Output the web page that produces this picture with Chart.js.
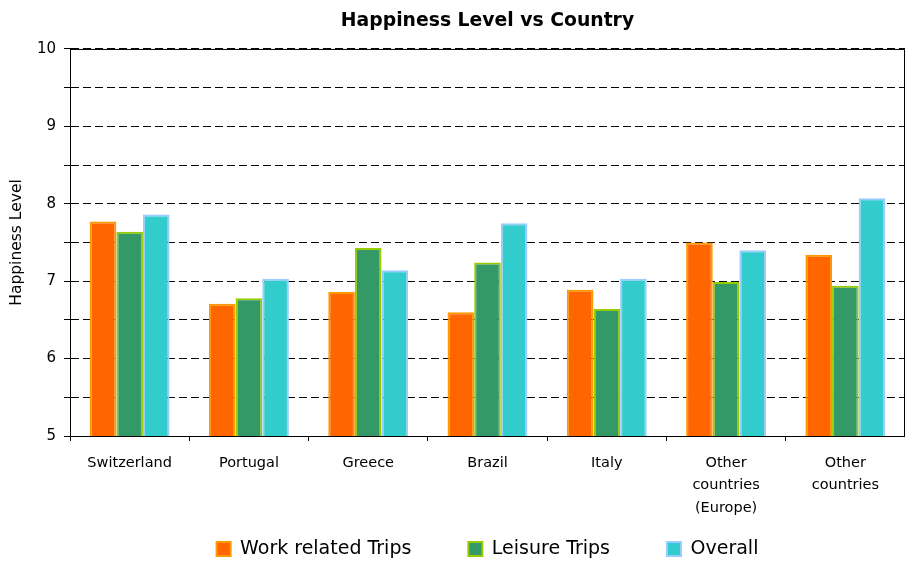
<!DOCTYPE html>
<html>
<head>
<meta charset="utf-8">
<script src="https://cdn.jsdelivr.net/npm/chart.js@4.4.1/dist/chart.umd.min.js"></script>
<style>
  html, body { margin: 0; padding: 0; background: #fff; }
  #wrap { width: 905px; height: 561px; }
</style>
</head>
<body>
<div id="wrap"><canvas id="chartLite"></canvas></div>
<script>
const countries = [
    'Switzerland', 'Portugal', 'Greece', 'Brazil', 'Italy',
    ['Other', 'countries', '(Europe)'], ['Other', 'countries']
];
const workTrips = [7.77, 6.71, 6.86, 6.60, 6.89, 7.50, 7.34];
const leisureTrips = [7.64, 6.78, 7.43, 7.24, 6.64, 6.99, 6.94];
const overall = [7.86, 7.03, 7.14, 7.75, 7.03, 7.40, 8.07];

const FONT = "'DejaVu Sans', Verdana, sans-serif";
const LEGEND_GAP = 57;   // wide gap between legend items
const LEGEND_H = 45;
const LEGEND_FONT = 19;

// solid frame on top and right of the plot area
const frame = {
    id: 'frame',
    afterDraw(chart) {
        const a = chart.chartArea;
        const c = chart.ctx;
        c.save();
        c.strokeStyle = '#000';
        c.lineWidth = 1;
        c.beginPath();
        c.moveTo(a.left, a.top + 0.5);
        c.lineTo(a.right - 0.5, a.top + 0.5);
        c.lineTo(a.right - 0.5, a.bottom);
        c.stroke();
        c.restore();
    }
};

// legend padding is used both across and down, so keep the box short
// and move its top up so the row lands near the bottom of the canvas
const legendFix = {
    id: 'legendFix',
    beforeLayout(chart) {
        const lg = chart.legend;
        if (lg && !lg._patched) {
            const fit = lg.fit;
            lg.fit = function () {
                fit.call(this);
                this.height = LEGEND_H;
            };
            lg._patched = true;
        }
    },
    afterLayout(chart) {
        const lg = chart.legend;
        const centerY = lg.bottom - 12;
        lg.top = centerY - LEGEND_FONT / 2 - LEGEND_GAP;
    }
};

let data = {
    labels: countries,
    datasets: [{
            label: 'Work related Trips',
            data: workTrips,
            backgroundColor: '#FF6600',
            borderColor: '#FF9900',
            borderWidth: 2
        },
        {
            label: 'Leisure Trips',
            data: leisureTrips,
            backgroundColor: '#339966',
            borderColor: '#99CC00',
            borderWidth: 2
        },
        {
            label: 'Overall',
            data: overall,
            backgroundColor: '#33CCCC',
            borderColor: '#99CCFF',
            borderWidth: 2
        }
    ]
};

let options = {
    responsive: true,
    maintainAspectRatio: false,
    animation: false,
    layout: {
        padding: { left: 6, right: 0, top: 10, bottom: 0 }
    },
    datasets: {
        bar: {
            categoryPercentage: 0.67,
            barPercentage: 1.0
        }
    },
    scales: {
        x: {
            grid: {
                display: true,
                drawOnChartArea: false,
                offset: true,
                color: '#000',
                tickLength: 5
            },
            border: { color: '#000', width: 1 },
            ticks: {
                color: '#000',
                font: { family: FONT, size: 14.5, lineHeight: 1.55 },
                padding: 11,
                maxRotation: 0,
                autoSkip: false
            },
            afterFit: function (scale) {
                scale.height = 80;
            }
        },
        y: {
            min: 5,
            max: 10,
            grid: {
                color: '#000',
                lineWidth: 1,
                tickLength: 6,
                tickBorderDash: []
            },
            border: { color: '#000', width: 1, dash: [8, 4] },
            ticks: {
                stepSize: 0.5,
                color: '#000',
                font: { family: FONT, size: 15 },
                padding: 8,
                callback: function (v) {
                    return v % 1 === 0 ? v : '';
                }
            },
            title: {
                display: true,
                text: 'Happiness Level',
                color: '#000',
                font: { family: FONT, size: 15.5 },
                padding: { top: 2, bottom: 6 }
            },
            afterFit: function (scale) {
                scale.width = 64;
            }
        }
    },
    plugins: {
        title: {
            display: true,
            text: 'Happiness Level vs Country',
            color: '#000',
            fullSize: false,
            font: { family: FONT, size: 18.8, weight: 'bold' },
            padding: { top: 0, bottom: 16.4 }
        },
        legend: {
            position: 'bottom',
            fullSize: false,
            labels: {
                color: '#000',
                font: { family: FONT, size: LEGEND_FONT },
                boxWidth: 14,
                boxHeight: 14,
                padding: LEGEND_GAP
            }
        },
        tooltip: { enabled: false }
    }
};

const ctx = document.getElementById("chartLite").getContext("2d");
const myChart = new Chart(ctx, {
    type: 'bar',
    data: data,
    options: options,
    plugins: [frame, legendFix]
});
</script>
</body>
</html>
